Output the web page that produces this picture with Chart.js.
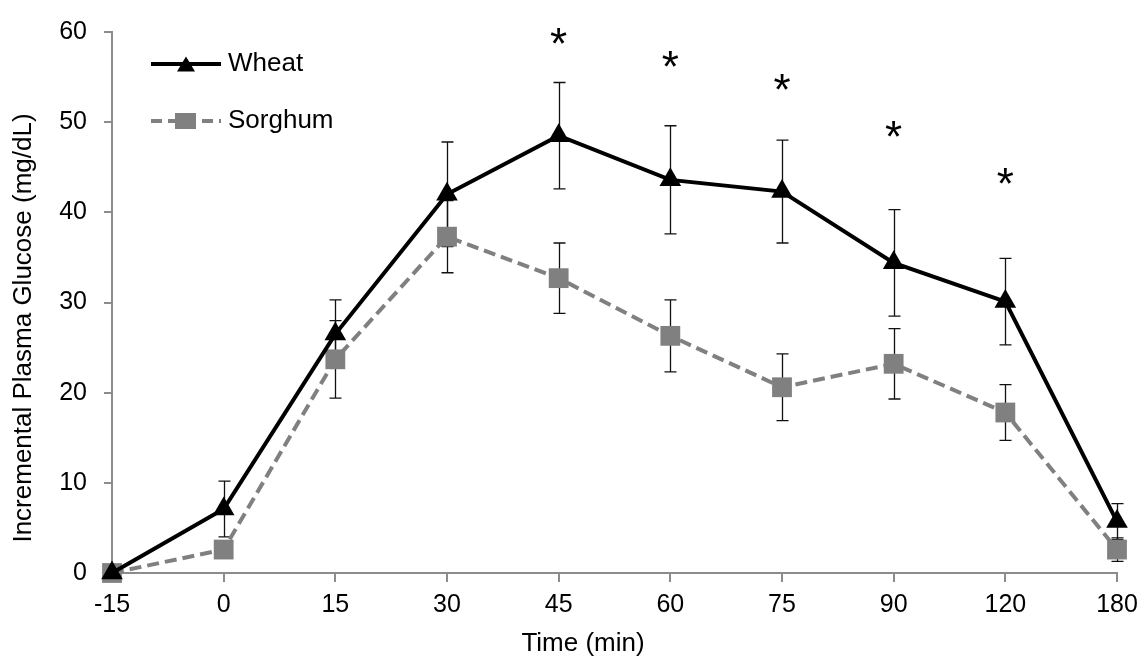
<!DOCTYPE html>
<html>
<head>
<meta charset="utf-8">
<script src="https://cdn.jsdelivr.net/npm/chart.js@4.4.0/dist/chart.umd.min.js"></script>
<style>
    html, body { margin: 0; padding: 0; background: #fff; }
</style>
</head>
<body>
<canvas id="graphique" width="1146" height="664"></canvas>
<script>
// Données
const temps = ['-15', '0', '15', '30', '45', '60', '75', '90', '120', '180'];
const wheat = [0, 7.1, 26.5, 42.0, 48.5, 43.6, 42.3, 34.4, 30.1, 5.7];
const wheatErr = [0, 3.1, 3.8, 5.8, 5.9, 6.0, 5.7, 5.9, 4.8, 2.0];
const sorghum = [0, 2.6, 23.7, 37.3, 32.7, 26.3, 20.6, 23.2, 17.8, 2.6];
const sorghumErr = [0, 0, 4.3, 4.0, 3.9, 4.0, 3.7, 3.9, 3.1, 1.3];
const etoiles = [null, null, null, null, 58.5, 55.9, 53.4, 48.2, 42.9, null];
const yTicks = [0, 10, 20, 30, 40, 50, 60];

const police = '"Liberation Sans", Arial, sans-serif';
Chart.defaults.font.family = police;
Chart.defaults.color = '#000';

const gris = '#808080';
const axeGris = '#8c8c8c';

const barresErreur = {
    id: 'barresErreur',
    beforeDatasetsDraw(chart) {
        const ctx = chart.ctx;
        const x = chart.scales.x;
        const y = chart.scales.y;
        ctx.save();
        ctx.strokeStyle = '#111';
        ctx.lineWidth = 1.3;
        [[wheat, wheatErr], [sorghum, sorghumErr]].forEach(([vals, errs]) => {
            vals.forEach((v, i) => {
                if (!errs[i]) return;
                const px = Math.round(x.getPixelForValue(i)) + 0.5;
                const haut = y.getPixelForValue(v + errs[i]);
                const bas = y.getPixelForValue(v - errs[i]);
                ctx.beginPath();
                ctx.moveTo(px, haut); ctx.lineTo(px, bas);
                ctx.moveTo(px - 6, haut); ctx.lineTo(px + 6, haut);
                ctx.moveTo(px - 6, bas); ctx.lineTo(px + 6, bas);
                ctx.stroke();
            });
        });
        ctx.restore();
    }
};

const asterisques = {
    id: 'asterisques',
    afterDatasetsDraw(chart) {
        const ctx = chart.ctx;
        const x = chart.scales.x;
        const y = chart.scales.y;
        ctx.save();
        ctx.fillStyle = '#000';
        ctx.font = '44px ' + police;
        ctx.textAlign = 'center';
        ctx.textBaseline = 'middle';
        etoiles.forEach((v, i) => {
            if (v === null) return;
            ctx.fillText('*', x.getPixelForValue(i), y.getPixelForValue(v) + 1);
        });
        ctx.restore();
    }
};

// titres des axes, placés comme dans l'original (pas centrés sur la zone)
const titres = {
    id: 'titres',
    afterDraw(chart) {
        const ctx = chart.ctx;
        const a = chart.chartArea;
        ctx.save();
        ctx.fillStyle = '#000';
        ctx.font = '26px ' + police;
        ctx.textAlign = 'center';
        ctx.textBaseline = 'middle';
        ctx.fillText('Time (min)', a.left + 471, a.bottom + 71);
        ctx.translate(24, a.top + 296);
        ctx.rotate(-Math.PI / 2);
        ctx.fillText('Incremental Plasma Glucose (mg/dL)', 0, 0);
        ctx.restore();
    }
};

function triangle(ctx, cx, cy, w, h) {
    ctx.beginPath();
    ctx.moveTo(cx, cy - h / 2);
    ctx.lineTo(cx + w / 2, cy + h / 2);
    ctx.lineTo(cx - w / 2, cy + h / 2);
    ctx.closePath();
    ctx.fill();
}

const legende = {
    id: 'legende',
    afterDraw(chart) {
        const ctx = chart.ctx;
        const gauche = chart.chartArea.left + 39;
        const y1 = 64, y2 = 121;
        ctx.save();
        // Wheat
        ctx.strokeStyle = '#000';
        ctx.fillStyle = '#000';
        ctx.lineWidth = 4;
        ctx.beginPath();
        ctx.moveTo(gauche, y1); ctx.lineTo(gauche + 70, y1);
        ctx.stroke();
        triangle(ctx, gauche + 35, y1, 18, 15);
        // Sorghum
        ctx.strokeStyle = gris;
        ctx.fillStyle = gris;
        ctx.setLineDash([11, 6]);
        ctx.beginPath();
        ctx.moveTo(gauche, y2); ctx.lineTo(gauche + 70, y2);
        ctx.stroke();
        ctx.setLineDash([]);
        ctx.fillRect(gauche + 24, y2 - 8, 21, 16);
        // texte
        ctx.fillStyle = '#000';
        ctx.font = '26px ' + police;
        ctx.textAlign = 'left';
        ctx.textBaseline = 'middle';
        ctx.fillText('Wheat', gauche + 77, y1);
        ctx.fillText('Sorghum', gauche + 77, y2);
        ctx.restore();
    }
};

const ctx = document.getElementById('graphique').getContext('2d');
new Chart(ctx, {
    type: 'line',
    data: {
        labels: temps,
        datasets: [
            {
                label: 'Wheat',
                data: wheat,
                borderColor: '#000',
                backgroundColor: '#000',
                borderWidth: 4,
                pointStyle: 'triangle',
                pointRadius: 12.5,
                pointBorderWidth: 0,
                pointBackgroundColor: '#000',
                tension: 0,
                clip: false
            },
            {
                label: 'Sorghum',
                data: sorghum,
                borderColor: gris,
                backgroundColor: gris,
                borderWidth: 4,
                borderDash: [12, 6],
                pointStyle: 'rect',
                pointRadius: 14,
                pointBorderWidth: 0,
                pointBackgroundColor: gris,
                tension: 0,
                clip: false
            }
        ]
    },
    options: {
        responsive: false,
        animation: false,
        devicePixelRatio: 1,
        layout: {
            padding: { top: 22, right: 29, left: 0, bottom: 0 }
        },
        plugins: {
            legend: { display: false },
            tooltip: { enabled: false }
        },
        scales: {
            x: {
                type: 'category',
                offset: false,
                grid: {
                    display: true,
                    drawOnChartArea: false,
                    drawTicks: true,
                    tickLength: 9,
                    color: axeGris,
                    lineWidth: 2
                },
                border: { color: axeGris, width: 2 },
                ticks: {
                    font: { size: 25 },
                    padding: 8,
                    maxRotation: 0,
                    autoSkip: false
                },
                title: { display: false },
                afterFit(scale) { scale.height = 91; }
            },
            y: {
                min: 0,
                max: 60,
                afterBuildTicks(scale) {
                    scale.ticks = yTicks.map(v => ({ value: v }));
                },
                grid: {
                    display: true,
                    drawOnChartArea: false,
                    drawTicks: true,
                    tickLength: 8,
                    color: axeGris,
                    lineWidth: 2
                },
                border: { color: axeGris, width: 2 },
                ticks: {
                    font: { size: 25 },
                    padding: 17
                },
                title: { display: false },
                afterFit(scale) { scale.width = 112; }
            }
        }
    },
    plugins: [barresErreur, asterisques, titres, legende]
});
</script>
</body>
</html>
